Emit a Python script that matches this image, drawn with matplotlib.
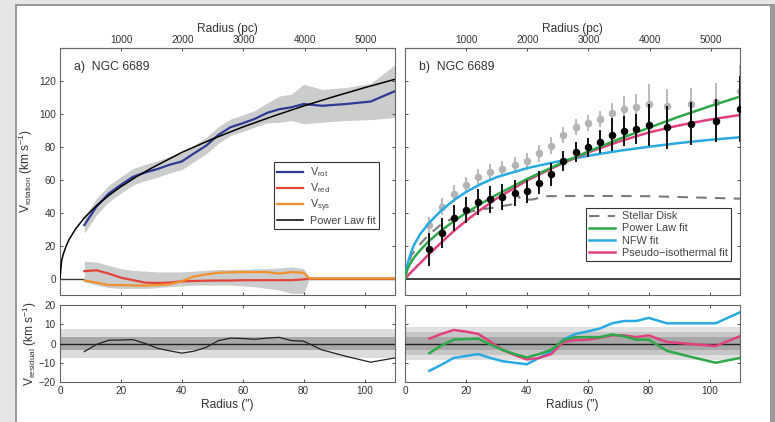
import matplotlib
matplotlib.use('Agg')
import matplotlib.pyplot as plt
from matplotlib.patches import Rectangle

plt.rcParams['font.family'] = ['Liberation Sans', 'DejaVu Sans']
plt.rcParams['mathtext.default'] = 'regular'

# Ring radii (arcsec)
radius = [8, 12, 16, 20, 24, 28, 32, 36, 40, 44, 48, 52, 56, 60, 64, 68, 72, 76, 80, 86, 94, 102, 110]

# Observed rotation velocity and its error
v_rot = [32.5, 43.7, 51.6, 56.9, 61.8, 64.4, 66.5, 69.1, 71.1, 76.0, 80.7, 87.2, 91.9, 94.3,
         97.0, 100.6, 102.8, 104.0, 106.0, 104.9, 106.0, 107.5, 113.8]
v_rot_err = [5, 5, 5, 5, 5, 5, 5, 5, 5, 5, 5, 5, 5, 5, 5, 6, 8, 8, 12, 10, 10, 11, 16]

# Dark-matter (disk subtracted) velocity and its error
v_halo = [17.8, 27.6, 36.6, 41.8, 46.6, 48.1, 49.4, 51.9, 53.0, 58.1, 63.4, 71.5, 77.0, 79.6,
          83.0, 87.3, 89.6, 90.8, 93.2, 91.8, 94.1, 95.9, 102.8]
v_halo_err = [10, 9, 8, 8, 8, 8, 8, 8, 7, 7, 7, 6, 6, 6, 7, 10, 9, 9, 13, 13, 13, 13, 20]

# Radial and systemic components (inner radii only)
radius_in = [8, 12, 16, 20, 24, 28, 32, 36, 40, 44, 48, 52, 56, 60, 64, 68, 72, 76, 80, 82, 110]
v_red = [4.5, 5.0, 3.0, 0.5, -1.0, -2.5, -2.7, -2.5, -1.7, -1.5, -1.3, -1.2, -1.2, -1.0,
         -1.0, -1.0, -1.0, -1.0, -0.5, 0.0, 0.0]
v_sys = [-1.2, -2.5, -4.0, -4.0, -4.2, -4.3, -4.0, -3.5, -1.6, 1.2, 2.5, 3.5, 3.8, 3.9,
         3.9, 3.9, 3.0, 3.9, 3.5, 0.0, 0.0]
band_hi = [10.5, 10, 8, 6, 5, 4.5, 4, 4, 4, 4.5, 5, 5.5, 5.5, 5.5, 6, 6, 6.5, 7, 6, 0, 0]
band_lo = [-2, -4, -5.5, -6, -6, -6, -5.5, -5, -4.5, -4, -4, -4, -4, -4.5, -5, -6, -7, -9, -9, 0, 0]

# Model curves
radius_fit = [0, 0.5, 1, 2, 3, 5, 8, 12, 16, 20, 25, 30, 40, 50, 60, 70, 80, 90, 100, 110]
power_law_a = [0, 10.5, 14.4, 19.7, 23.7, 29.8, 36.9, 44.3, 50.4, 55.8, 61.7, 67.0, 76.6, 84.7,
               92.0, 98.6, 104.8, 110.5, 115.9, 121.0]
power_law_b = [0, 4.4, 6.6, 10.0, 12.8, 17.3, 23.0, 29.3, 34.8, 39.8, 45.5, 50.8, 60.4, 69.0,
               77.0, 84.5, 91.5, 98.3, 104.6, 110.5]
nfw = [0, 6.0, 10.0, 16.0, 20.5, 27.0, 34.0, 41.5, 47.5, 52.5, 57.5, 61.5, 67.0, 71.0,
       74.5, 77.5, 80.0, 82.3, 84.2, 85.8]
iso = [0, 0.9, 1.9, 3.8, 5.7, 9.4, 15.0, 22.0, 28.8, 35.0, 42.0, 48.5, 59.5, 68.5,
       76.5, 83.0, 88.7, 93.0, 96.5, 99.3]

radius_disk = [0, 2, 5, 8, 12, 16, 20, 25, 29, 32, 35, 36.5, 38, 42, 46, 60, 80, 100, 110]
v_disk = [0, 14, 21, 27, 33, 37, 40, 42, 43, 44, 45, 52, 48, 48, 50, 50.2, 50, 49, 48.5]

# Residuals
res_a = [-4.2, -0.5, 1.7, 1.8, 2.0, 0.0, -2.5, -3.8, -5.0, -4.0, -2.0, 1.5, 2.8, 2.6,
         2.2, 2.8, 3.2, 1.5, 1.2, -3.3, -6.7, -9.7, -7.5]
res_pl = [-5, -1, 2, 2.3, 2.5, -0.5, -3.3, -5.5, -7.2, -5.5, -3.3, 1.7, 3.3, 3.3,
          3.3, 4.7, 3.7, 2, 2, -3.8, -7, -10, -7.5]
res_nfw = [-14.2, -11, -7.5, -6.5, -5.5, -7.5, -9.2, -10, -10.8, -7.5, -4.2, 2, 5, 6.3,
           7.8, 10.5, 11.7, 11.7, 13.3, 10.5, 10.5, 10.5, 16.2]
res_iso = [2.5, 5, 7, 6.2, 5, 1, -3.3, -6, -8.3, -7.5, -5.5, 0.8, 1.8, 2,
           3, 4.2, 4.2, 3.3, 4.2, 0.8, -0.3, -1.3, 3.8]

PC_PER_ARCSEC = 49.8
TXT = '#333333'

W, H = 775, 422
fig = plt.figure(figsize=(W / 100, H / 100), dpi=100)
fig.patch.set_facecolor('#e6e6e6')
# page with drop shadow
fig.patches.append(Rectangle((15 / W, 0), 760 / W, (H - 4) / H, transform=fig.transFigure,
                             facecolor='#9a9a9a', edgecolor='none', zorder=-2))
fig.patches.append(Rectangle((17 / W, 0), 753 / W, (H - 6) / H, transform=fig.transFigure,
                             facecolor='white', edgecolor='none', zorder=-1))


def box(x0, y0, x1, y1):
    return [x0 / W, 1 - y1 / H, (x1 - x0) / W, (y1 - y0) / H]


ax_a = fig.add_axes(box(60, 48, 395, 295))
ax_ar = fig.add_axes(box(60, 305, 395, 382))
ax_b = fig.add_axes(box(405, 48, 740, 295))
ax_br = fig.add_axes(box(405, 305, 740, 382))

for ax in [ax_a, ax_ar, ax_b, ax_br]:
    ax.set_xlim(0, 110)
    ax.set_xticks([0, 20, 40, 60, 80, 100])
    ax.tick_params(direction='in', length=2.5, width=0.6, labelsize=7.2, colors=TXT,
                   top=True, right=True, pad=3)
    for s in ax.spines.values():
        s.set_color('#666666')
        s.set_linewidth(0.8)

for ax in [ax_a, ax_b]:
    ax.set_ylim(-10, 140)
    ax.set_yticks([0, 20, 40, 60, 80, 100, 120])
    ax.tick_params(labelbottom=False, top=False)
    sec = ax.secondary_xaxis('top', functions=(lambda d: d * PC_PER_ARCSEC,
                                                lambda p: p / PC_PER_ARCSEC))
    sec.set_xticks([1000, 2000, 3000, 4000, 5000])
    sec.tick_params(direction='in', length=2.5, width=0.6, labelsize=7.2, colors=TXT, pad=2)
    sec.spines['top'].set_color('#666666')
    sec.set_xlabel('Radius (pc)', fontsize=8.6, color=TXT, labelpad=2)

for ax in [ax_ar, ax_br]:
    ax.set_ylim(-20, 20)
    ax.set_yticks([-20, -10, 0, 10, 20])
    ax.set_xlabel('Radius (″)', fontsize=8.6, color=TXT, labelpad=2)
    ax.axhline(0, color='#222222', lw=1.0, zorder=3)

ax_b.tick_params(labelleft=False)
ax_br.tick_params(labelleft=False)

legend_kw = dict(fontsize=7.8, fancybox=False, framealpha=1, edgecolor=TXT, handlelength=2.4,
                 borderpad=0.3, labelspacing=0.2, handletextpad=0.6, borderaxespad=0)

# a) rotation curve
ax_a.plot([0, 110], [0, 0], color=TXT, lw=1.0, zorder=1)
lo = [v - e for v, e in zip(v_rot, v_rot_err)]
hi = [v + e for v, e in zip(v_rot, v_rot_err)]
ax_a.fill_between(radius, lo, hi, color='#cbcccc', lw=0, zorder=1)
ax_a.fill_between(radius_in, band_lo, band_hi, color='#cbcccc', lw=0, zorder=1)
ax_a.plot(radius, v_rot, color='#2e3a94', lw=1.6, zorder=3, label='V$_{rot}$')
ax_a.plot(radius_in, v_red, color='#e2443a', lw=1.6, zorder=3, label='V$_{red}$')
ax_a.plot(radius_in, v_sys, color='#f0902e', lw=1.6, zorder=4, label='V$_{sys}$')
ax_a.plot(radius_fit, power_law_a, color='black', lw=1.1, zorder=5, label='Power Law fit')
ax_a.text(0.042, 0.925, 'a)  NGC 6689', transform=ax_a.transAxes, fontsize=8.8,
          color=TXT, va='center')
ax_a.set_ylabel('V$_{rotation}$ (km s$^{-1}$)', fontsize=8.6, color=TXT, labelpad=3)
leg = ax_a.legend(loc='upper left', bbox_to_anchor=(0.639, 0.538), **legend_kw)
leg.get_frame().set_linewidth(0.8)
for t in leg.get_texts():
    t.set_color('#444444')

# a) residuals
ax_ar.axhspan(-7.3, 7.3, color='#dcdcdc', lw=0, zorder=0)
ax_ar.axhspan(-3.6, 3.6, color='#a8a8a8', lw=0, zorder=0)
ax_ar.plot(radius, res_a, color='#222222', lw=0.9, zorder=4)
ax_ar.set_ylabel('V$_{residual}$ (km s$^{-1}$)', fontsize=8.6, color=TXT, labelpad=0)

# b) mass models
ax_b.axhline(0, color='#222222', lw=1.2, zorder=1)
ax_b.errorbar(radius, v_rot, yerr=v_rot_err, fmt='o', color='#b4b4b4', ms=4.4,
              elinewidth=1.3, capsize=0, zorder=2)
ax_b.plot(radius_disk, v_disk, color='#7a7a7a', lw=1.5, dashes=(5, 4), zorder=3,
          label='Stellar Disk')
ax_b.errorbar(radius, v_halo, yerr=v_halo_err, fmt='o', color='black', ms=4.4,
              elinewidth=1.3, capsize=0, zorder=6)
ax_b.plot(radius_fit, power_law_b, color='#2ea84a', lw=1.8, zorder=5, label='Power Law fit')
ax_b.plot(radius_fit, nfw, color='#2aaae2', lw=1.8, zorder=4, label='NFW fit')
ax_b.plot(radius_fit, iso, color='#e0417e', lw=1.8, zorder=4, label='Pseudo\u2212isothermal fit')
ax_b.text(0.042, 0.925, 'b)  NGC 6689', transform=ax_b.transAxes, fontsize=8.8,
          color=TXT, va='center')
leg = ax_b.legend(loc='upper left', bbox_to_anchor=(0.54, 0.352), **legend_kw)
leg.get_frame().set_linewidth(0.8)
for t in leg.get_texts():
    t.set_color('#444444')

# b) residuals
ax_br.axhspan(-8.7, 8.7, color='#e0e0e0', lw=0, zorder=0)
ax_br.axhspan(-6.0, 6.0, color='#c6c6c6', lw=0, zorder=0)
ax_br.axhspan(-3.6, 3.6, color='#a8a8a8', lw=0, zorder=0)
ax_br.plot(radius, res_nfw, color='#2aaae2', lw=1.8, zorder=4)
ax_br.plot(radius, res_iso, color='#e0417e', lw=1.8, zorder=4)
ax_br.plot(radius, res_pl, color='#2ea84a', lw=1.8, zorder=5)

fig.savefig('out.png', dpi=100, facecolor=fig.get_facecolor())
